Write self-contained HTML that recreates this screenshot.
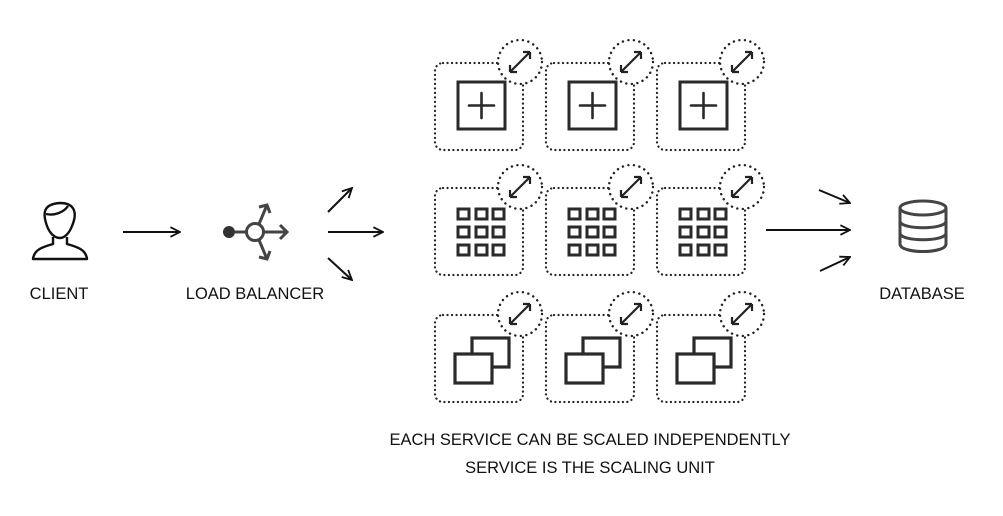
<!DOCTYPE html>
<html><head><style>
body{margin:0;background:#fff}
svg{display:block}
text{font-family:"Liberation Sans",sans-serif;font-size:16.5px;fill:#111}
</style></head><body>
<svg width="1003" height="516" viewBox="0 0 1003 516">
<defs>
<marker id="ah" viewBox="0 0 10 10" refX="9" refY="5" markerWidth="12" markerHeight="12" markerUnits="userSpaceOnUse" orient="auto"><path d="M1 1 L9 5 L1 9" fill="none" stroke="#111" stroke-width="1.5"/></marker>
<g id="tile">
<rect x="0" y="0" width="88" height="87" rx="8" fill="none" stroke="#222" stroke-width="2.2" stroke-dasharray="0.1 4.4" stroke-linecap="round"/>
<circle cx="85" cy="-1" r="22" fill="#fff" stroke="#222" stroke-width="2.4" stroke-dasharray="0.1 5.5" stroke-linecap="round"/>
<path d="M75 9 L95 -11 M75 9 l0 -7 M75 9 l7 0 M95 -11 l-7 0 M95 -11 l0 7" stroke="#222" stroke-width="2.2" fill="none"/>
</g>
<g id="plus"><rect x="23" y="19" width="47" height="47" fill="#fff" stroke="#2a2a2a" stroke-width="3"/><path d="M34 42.5h25M46.5 30v25" stroke="#2a2a2a" stroke-width="2.6" stroke-linecap="round"/></g>
<g id="grid" fill="none" stroke="#2a2a2a" stroke-width="3">
<rect x="23" y="21" width="11" height="10"/><rect x="41" y="21" width="11" height="10"/><rect x="58" y="21" width="11" height="10"/>
<rect x="23" y="39" width="11" height="10"/><rect x="41" y="39" width="11" height="10"/><rect x="58" y="39" width="11" height="10"/>
<rect x="23" y="57" width="11" height="10"/><rect x="41" y="57" width="11" height="10"/><rect x="58" y="57" width="11" height="10"/>
</g>
<g id="win" stroke="#2a2a2a" stroke-width="3.2" fill="#fff"><rect x="37" y="23" width="37" height="29"/><rect x="20" y="39" width="37" height="29"/></g>
</defs>
<!-- client -->
<g fill="none" stroke="#111" stroke-width="2.4" stroke-linejoin="round">
<path d="M47 226 C42 212 44 204 60 203 C74 203 78 212 72 226 C69 234 64 238 60 238 C55 238 50 234 47 226 Z"/>
<path d="M46 214 C55 216 64 212 68 206"/>
<path d="M53 237 L53 244 C42 247 34 250 33 259 L87 259 C86 250 78 247 67 244 L67 237"/>
</g>
<!-- LB -->
<g stroke="#444" stroke-width="3" fill="none">
<circle cx="229" cy="232" r="6" fill="#333" stroke="none"/>
<path d="M235 232 H246"/>
<circle cx="255" cy="232" r="8.5" fill="#fff"/>
<path d="M263 232 H287 M280 225 l7 7 -7 7"/>
<path d="M259 224 L267 205 M259 207 l8 -2 3 8"/>
<path d="M259 240 L267 259 M259 257 l8 2 3 -8"/>
</g>
<!-- arrows -->
<g stroke="#111" stroke-width="2" fill="none" marker-end="url(#ah)">
<path d="M123 232 H180"/>
<path d="M328 212 L352 188"/>
<path d="M328 232 H383"/>
<path d="M328 258 L352 280"/>
<path d="M766 230 H850"/>
<path d="M819 190 L850 203"/>
<path d="M820 271 L850 257"/>
</g>
<!-- tiles -->
<use href="#tile" x="435" y="63"/><use href="#plus" x="435" y="63"/>
<use href="#tile" x="546" y="63"/><use href="#plus" x="546" y="63"/>
<use href="#tile" x="657" y="63"/><use href="#plus" x="657" y="63"/>
<use href="#tile" x="435" y="188"/><use href="#grid" x="435" y="188"/>
<use href="#tile" x="546" y="188"/><use href="#grid" x="546" y="188"/>
<use href="#tile" x="657" y="188"/><use href="#grid" x="657" y="188"/>
<use href="#tile" x="435" y="315"/><use href="#win" x="435" y="315"/>
<use href="#tile" x="546" y="315"/><use href="#win" x="546" y="315"/>
<use href="#tile" x="657" y="315"/><use href="#win" x="657" y="315"/>
<!-- DB -->
<g stroke="#444" stroke-width="3" fill="none">
<ellipse cx="923" cy="208" rx="23" ry="7"/>
<path d="M900 208 V244 C900 254 946 254 946 244 V208"/>
<path d="M900 221 C900 230 946 230 946 221"/>
<path d="M900 233 C900 242 946 242 946 233"/>
</g>
<text x="59" y="299" text-anchor="middle">CLIENT</text>
<text x="255" y="299" text-anchor="middle">LOAD BALANCER</text>
<text x="922" y="299" text-anchor="middle">DATABASE</text>
<text x="590" y="445" text-anchor="middle">EACH SERVICE CAN BE SCALED INDEPENDENTLY</text>
<text x="590" y="473" text-anchor="middle">SERVICE IS THE SCALING UNIT</text>
</svg>
</body></html>
